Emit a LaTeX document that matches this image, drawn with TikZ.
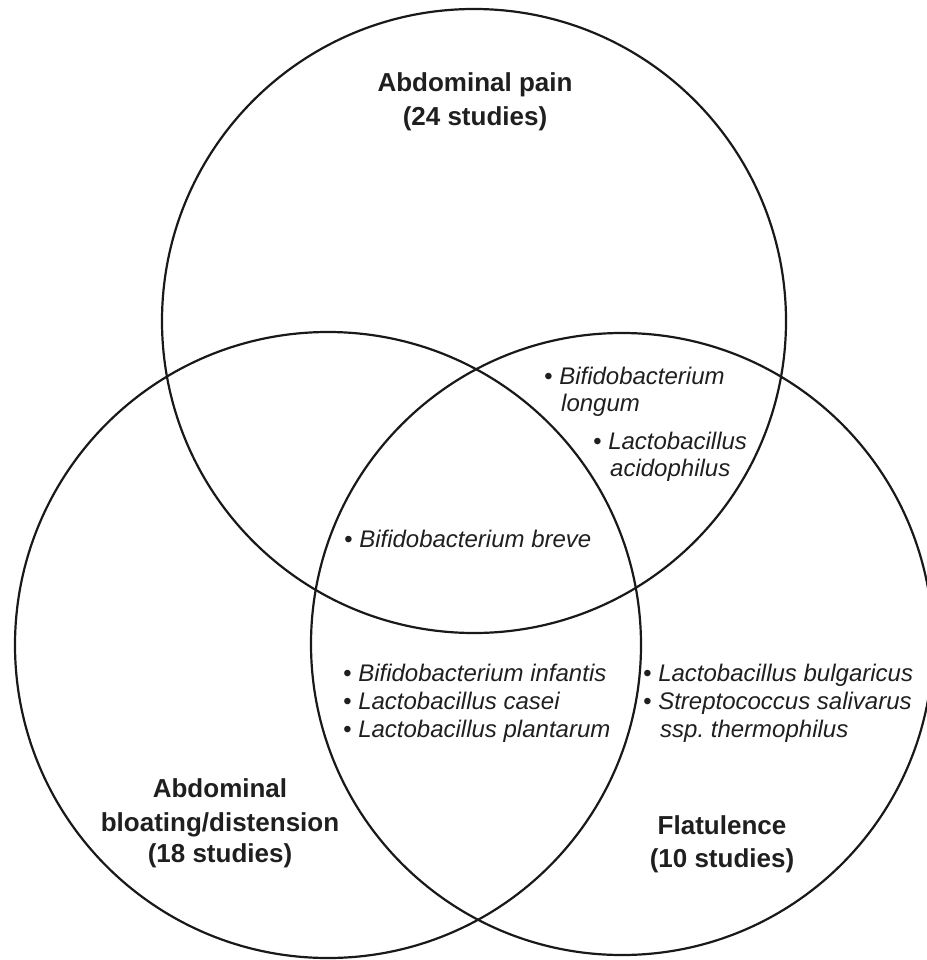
\documentclass[tikz,border=0pt]{standalone}
\usepackage{fontspec}
\setmainfont{Liberation Sans}
\begin{document}
\begin{tikzpicture}[x=1pt,y=-1pt,
  ring/.style={circle,draw=black!90,line width=2.2pt,inner sep=0pt},
  title/.style={anchor=base,inner sep=0pt,text=black!88,font=\fontsize{26}{30}\selectfont\bfseries},
  item/.style={anchor=base west,inner sep=0pt,text=black!88,font=\fontsize{24}{28}\selectfont\itshape}]
\useasboundingbox (0,0) rectangle (926,960);
\node[ring,minimum size=624pt] (pain) at (474,321) {};
\node[ring,minimum size=626pt] (bloat) at (328,645) {};
\node[ring,minimum size=622pt] (flat) at (622,644) {};
% titles
\node[title] (t1a) at (475,92) {Abdominal pain};
\node[title] (t1b) at (475,126) {(24 studies)};
\node[title] (t2a) at (220,797) {Abdominal};
\node[title] (t2b) at (220,831) {bloating/distension};
\node[title] (t2c) at (220,862) {(18 studies)};
\node[title] (t3a) at (722,834) {Flatulence};
\node[title] (t3b) at (722,867) {(10 studies)};
% items
\node[item] (i1) at (544,384) {• Bifidobacterium};
\node[item] (i1b) at (561,411) {longum};
\node[item] (i2) at (593,449) {• Lactobacillus};
\node[item] (i2b) at (610,476) {acidophilus};
\node[item] (i3) at (344,547) {• Bifidobacterium breve};
\node[item] (i4) at (343,681) {• Bifidobacterium infantis};
\node[item] (i5) at (343,709) {• Lactobacillus casei};
\node[item] (i6) at (343,737) {• Lactobacillus plantarum};
\node[item] (i7) at (643,681) {• Lactobacillus bulgaricus};
\node[item] (i8) at (643,709) {• Streptococcus salivarus};
\node[item] (i8b) at (660,737) {ssp.\ thermophilus};
\end{tikzpicture}
\end{document}
